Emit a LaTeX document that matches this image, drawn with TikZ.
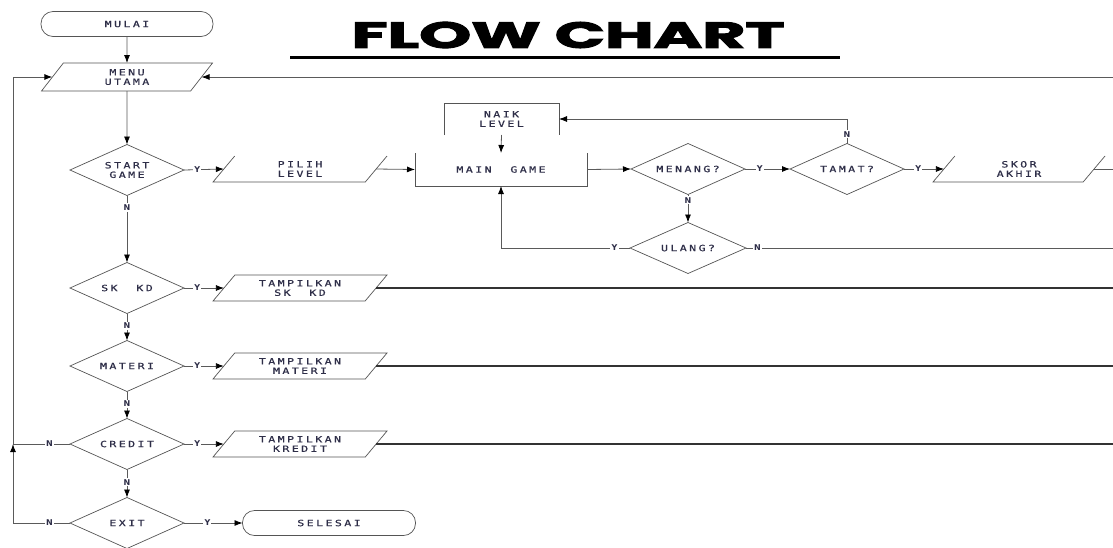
\documentclass[tikz,border=0pt]{standalone}
\usepackage{fontspec}
\usepackage{graphicx}
\usetikzlibrary{shapes.geometric,arrows.meta,calc}
\newfontfamily\lblfont{DejaVu Sans Mono}[FakeStretch=1.35,LetterSpace=28,FakeBold=0.6]
\newfontfamily\ynfont{DejaVu Sans}
\newfontfamily\ttlfont{Poppins}[FakeBold=2.5]
\definecolor{ink}{HTML}{2E2E48}
\definecolor{edge}{HTML}{555555}
\definecolor{conn}{HTML}{5A5A5A}
\begin{document}
\begin{tikzpicture}[x=1pt,y=-1pt,
  every node/.style={inner sep=0pt,outer sep=0pt},
  lbl/.style={font=\lblfont\fontsize{8.6}{9.5}\selectfont, text=ink, align=center},
  term/.style={lbl, draw=edge, line width=0.7pt, rounded corners=12pt, minimum width=172pt, minimum height=25pt},
  dec/.style={lbl, diamond, aspect=2.2, draw=edge, line width=0.7pt, minimum width=114pt, minimum height=51pt},
  para/.style={lbl, trapezium, trapezium left angle=36, trapezium right angle=144, trapezium stretches body, minimum width=174pt, minimum height=26pt, draw=edge, line width=0.7pt},
  paraopen/.style={para, draw=none},
  box/.style={lbl, rectangle, minimum width=#1, minimum height=33pt},
  shapeline/.style={draw=edge, line width=0.7pt},
  arr/.style={draw=conn, line width=0.8pt, -{Latex[length=8pt,width=6pt,color=black]}},
  plain/.style={draw=conn, line width=0.8pt},
  heavy/.style={draw=black!80, line width=1.1pt},
  yn/.style={font=\ynfont\bfseries\fontsize{8}{8}\selectfont, text=ink, fill=white, inner sep=1.2pt}
]
\useasboundingbox (0,0) rectangle (1113,547);
\fill[white] (0,0) rectangle (1113,547);
\clip (0,0) rectangle (1113,547);

% title
\node (title) at (568,35) {\resizebox{433pt}{26pt}{\ttlfont\bfseries FLOW CHART}};
\coordinate (ulA) at (290,57);
\coordinate (ulB) at (840,57);
\draw[line width=3pt] (ulA) -- (ulB);

% nodes
\node[term] (mulai) at (127,24) {MULAI};
\node[para, minimum width=171pt, minimum height=28pt] (menu) at (127,77) {MENU\\UTAMA};
\node[dec] (start) at (127,170) {START\\GAME};
\node[paraopen] (pilih) at (300,169) {PILIH\\LEVEL};
\draw[shapeline] (pilih.top left corner) -- (pilih.bottom left corner) -- (pilih.bottom right corner) -- (pilih.top right corner);
\node[box=115pt, minimum height=32pt] (naik) at (501.5,119) {NAIK\\LEVEL};
\draw[shapeline] (naik.south west) -- (naik.north west) -- (naik.north east) -- (naik.south east);
\node[box=172pt] (main) at (501,169.5) {MAIN~ GAME};
\draw[shapeline] (main.north west) -- (main.south west) -- (main.south east) -- (main.north east);
\node[dec] (menang) at (688,169) {MENANG?};
\node[dec] (tamat) at (847,169) {TAMAT?};
\node[paraopen, minimum width=172pt] (skor) at (1019,169) {SKOR\\AKHIR};
\draw[shapeline] (skor.top left corner) -- (skor.bottom left corner) -- (skor.bottom right corner) -- (skor.top right corner);
\node[dec, minimum width=116pt] (ulang) at (688,248) {ULANG?};

\node[dec] (skk) at (127,288) {SK~ KD};
\node[para] (t1) at (300,288) {TAMPILKAN\\SK~ KD};
\node[dec] (materi) at (127,366) {MATERI};
\node[para] (t2) at (300,366) {TAMPILKAN\\MATERI};
\node[dec] (credit) at (127,444) {CREDIT};
\node[para] (t3) at (300,444) {TAMPILKAN\\KREDIT};
\node[dec] (exit) at (127,523) {EXIT};
\node[term, minimum width=173pt] (selesai) at (329,523) {SELESAI};

% free ends
\coordinate (offM) at (1125,77);
\coordinate (offS) at (1125,169);
\coordinate (offU) at (1125,248);
\coordinate (off1) at (1125,288);
\coordinate (off2) at (1125,366);
\coordinate (off3) at (1125,444);
\coordinate (lm) at (13,444);
\coordinate (lb) at (13,523);

% connectors
\draw[arr] (mulai.south) -- (menu.north);
\draw[arr] (menu.south) -- (start.north);
\draw[arr] (start.east) -- node[yn, pos=0.33] {Y} (pilih.left side);
\draw[arr] (pilih.right side) -- (main.west);
\draw[arr] (naik.south) -- (main.north);
\draw[arr] (main.east) -- (menang.west);
\draw[arr] (menang.east) -- node[yn, pos=0.33] {Y} (tamat.west);
\draw[arr] (tamat.east) -- node[yn, pos=0.36] {Y} (skor.left side);
\draw[arr] (tamat.north) |- node[yn, pos=0.19] {N} (naik.east);
\draw[arr] (menang.south) -- node[yn, pos=0.2] {N} (ulang.north);
\draw[arr] (ulang.west) -| node[yn, pos=0.06] {Y} (main.south);
\draw[plain] (ulang.east) -- node[yn, pos=0.03] {N} (offU);
\draw[plain] (skor.right side) -- (offS);
\draw[arr] (offM) -- (menu.right side);

\draw[arr] (start.south) -- node[yn, pos=0.18] {N} (skk.north);
\draw[arr] (skk.east) -- node[yn, pos=0.33] {Y} (t1.left side);
\draw[heavy] (t1.right side) -- (off1);
\draw[arr] (skk.south) -- node[yn, pos=0.45] {N} (materi.north);
\draw[arr] (materi.east) -- node[yn, pos=0.33] {Y} (t2.left side);
\draw[heavy] (t2.right side) -- (off2);
\draw[arr] (materi.south) -- node[yn, pos=0.45] {N} (credit.north);
\draw[arr] (credit.east) -- node[yn, pos=0.33] {Y} (t3.left side);
\draw[heavy] (t3.right side) -- (off3);
\draw[arr] (credit.south) -- node[yn, pos=0.45] {N} (exit.north);
\draw[arr] (exit.east) -- node[yn, pos=0.4] {Y} (selesai.west);

\draw[plain] (credit.west) -- node[yn, pos=0.36] {N} (lm);
\draw[plain] (exit.west) -- node[yn, pos=0.36] {N} (lb);
\draw[arr, line width=1pt] (lb) -- (lm);
\draw[arr, line width=1pt] (lm) |- (menu.left side);
\end{tikzpicture}
\end{document}
